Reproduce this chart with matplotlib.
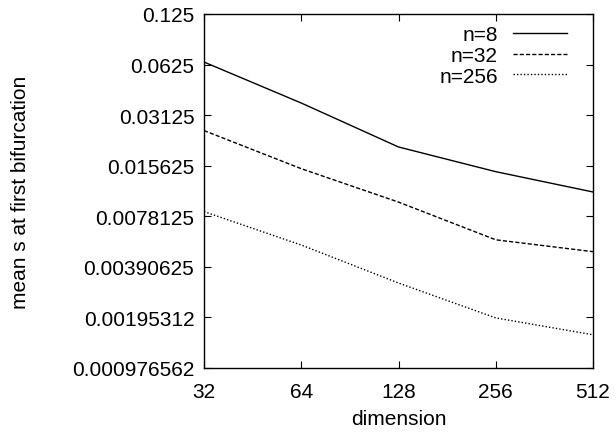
import numpy as np
import matplotlib
matplotlib.use('Agg')
import matplotlib.pyplot as plt

plt.rcParams['font.family'] = ['Liberation Sans', 'DejaVu Sans']

##################################################################
# Data
##################################################################
dims = [32, 64, 128, 256, 512]
n8 = [0.0647, 0.0369, 0.0202, 0.0144, 0.0109]
n32 = [0.0253, 0.0150, 0.00949, 0.00566, 0.00481]
n256 = [0.00833, 0.00527, 0.00313, 0.00194, 0.00154]

yticks = [0.125, 0.0625, 0.03125, 0.015625, 0.0078125, 0.00390625,
          0.001953125, 0.0009765625]
ytick_labels = ['0.125', '0.0625', '0.03125', '0.015625', '0.0078125',
                '0.00390625', '0.00195312', '0.000976562']

##################################################################
# Plot figure
##################################################################
fig = plt.figure(figsize=(6.15, 4.35), dpi=100)
ax = fig.add_axes([204/615, 1 - 369/435, (593-204)/615, (369-15)/435])

ax.plot(dims, n8, color='black', lw=1.0, ls='-', label='n=8')
ax.plot(dims, n32, color='black', lw=1.0, ls=(0, (3, 1.5)), label='n=32')
ax.plot(dims, n256, color='black', lw=1.0, ls=(0, (1, 1.5)), label='n=256')

ax.set_xscale('log', base=2)
ax.set_yscale('log', base=2)
ax.set_xlim(32, 512)
ax.set_ylim(0.0009765625, 0.125)

ax.set_xticks(dims)
ax.set_xticklabels([str(d) for d in dims])
ax.set_yticks(yticks)
ax.set_yticklabels(ytick_labels)
ax.minorticks_off()
ax.tick_params(direction='in', length=5, width=0.8, top=True, right=True,
               labelsize=15, pad=7)
ax.tick_params(axis='x', pad=10)
for s in ax.spines.values():
    s.set_linewidth(1.0)

ax.set_xlabel('dimension', fontsize=15, labelpad=6)
ax.set_ylabel('mean s at first bifurcation', fontsize=15, labelpad=30)

ax.legend(loc='upper right', frameon=False, markerfirst=False, fontsize=15,
          handlelength=2.6, handletextpad=0.7, labelspacing=0.08,
          borderaxespad=0.0, bbox_to_anchor=(1 - 18/389, 1 - 3/354))

fig.savefig('out.png', dpi=100)
